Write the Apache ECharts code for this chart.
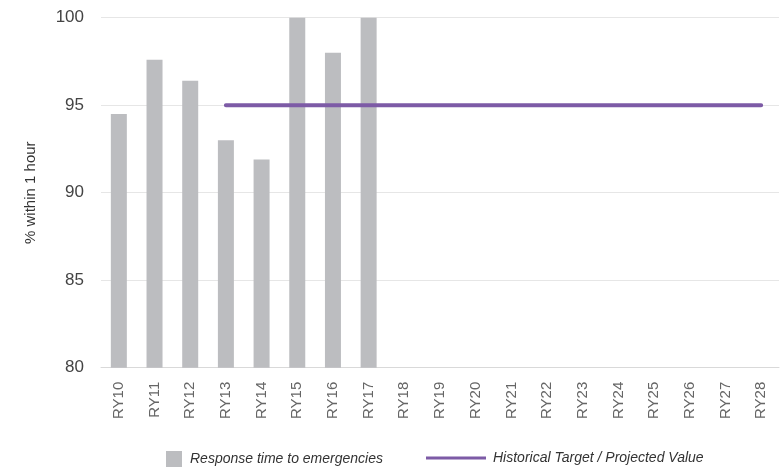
<!DOCTYPE html>
<html>
<head>
<meta charset="utf-8">
<script src="https://cdn.jsdelivr.net/npm/echarts@6/dist/echarts.min.js"></script>
<style>
  html, body { margin: 0; padding: 0; background: #fff; }
  #chart { width: 780px; height: 470px; }
</style>
</head>
<body>
<div id="chart"></div>
<script>
// Reporting years on the category axis
const years = ['RY10','RY11','RY12','RY13','RY14','RY15','RY16','RY17','RY18','RY19',
               'RY20','RY21','RY22','RY23','RY24','RY25','RY26','RY27','RY28'];
// Share of emergencies responded to within one hour (%)
const responseValues = [94.5, 97.6, 96.4, 93.0, 91.9, 100, 98.0, 100,
                        null, null, null, null, null, null, null, null, null, null, null];
// Target / projected value, from RY13 onward
const targetValues = [null, null, null, 95, 95, 95, 95, 95, 95, 95,
                      95, 95, 95, 95, 95, 95, 95, 95, 95];
// Y-axis range and step
const yMin = 80, yMax = 100, yStep = 5;

const barName = 'Response time to emergencies';
const lineName = 'Historical Target / Projected Value';

const FONT = 'Liberation Sans, Arial, sans-serif';
const legendText = { fontFamily: FONT, fontStyle: 'italic', fontSize: 14, color: '#333' };

const chart = echarts.init(document.getElementById('chart'), null, { renderer: 'canvas' });
chart.setOption({
  animation: false,
  backgroundColor: '#ffffff',
  grid: { left: 101, right: 1, top: 17.7, bottom: 102.3, containLabel: false },
  legend: [
    {
      data: [{ name: barName, icon: 'rect' }],
      left: 166, top: 451, padding: 0,
      itemWidth: 16, itemHeight: 16,
      textStyle: Object.assign({ padding: [0, 0, 0, 3] }, legendText)
    },
    {
      data: [{ name: lineName, icon: 'rect' }],
      left: 426, top: 451, padding: 0,
      itemWidth: 60, itemHeight: 3,
      textStyle: Object.assign({ padding: [0, 0, 0, 2] }, legendText)
    }
  ],
  xAxis: {
    type: 'category',
    data: years,
    axisLine: { show: true, lineStyle: { color: '#d9d9d9', width: 1 } },
    axisTick: { show: false },
    axisLabel: {
      rotate: 90, margin: 14, fontSize: 15, color: '#666',
      fontFamily: FONT
    }
  },
  yAxis: {
    type: 'value',
    min: yMin, max: yMax, interval: yStep,
    name: '% within 1 hour',
    nameLocation: 'middle',
    nameGap: 63,
    nameTextStyle: { fontSize: 15, color: '#333', fontFamily: FONT },
    axisLine: { show: false },
    axisTick: { show: false },
    axisLabel: { fontSize: 17, color: '#444', margin: 17, fontFamily: FONT },
    splitLine: { lineStyle: { color: '#e6e6e6', width: 1 } }
  },
  series: [
    {
      name: barName,
      type: 'bar',
      data: responseValues,
      barWidth: 16,
      itemStyle: { color: '#bcbdc0' }
    },
    {
      name: lineName,
      type: 'line',
      data: targetValues,
      showSymbol: false,
      symbol: 'none',
      lineStyle: { color: '#7d5ba6', width: 4, cap: 'round' },
      itemStyle: { color: '#7d5ba6' },
      z: 5
    }
  ]
});
</script>
</body>
</html>
